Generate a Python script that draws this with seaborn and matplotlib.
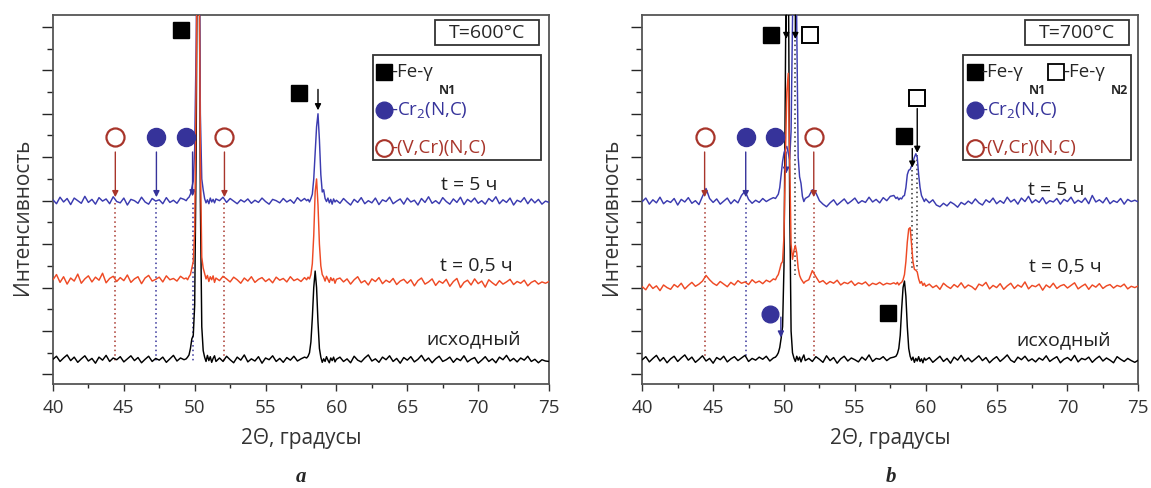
import numpy as np
import pandas as pd
import matplotlib
matplotlib.use('Agg')
import matplotlib.pyplot as plt
import seaborn as sns
from matplotlib.patches import Rectangle

# 2-theta sampling grid (coarse on the background, fine around the peaks)
tt = np.concatenate([
    np.linspace(40.0, 49.25, 38),
    np.linspace(49.4, 51.5, 22),
    np.linspace(51.75, 57.75, 25),
    np.linspace(57.9, 60.0, 22),
    np.linspace(60.25, 75.0, 60),
])

# ---- panel a : T = 600 C ----
a_blue = ([4.02, 3.93, 4.08, 3.97, 4.05, 3.91, 4.06, 4.0, 3.94, 4.1,
           3.96, 4.03, 3.92, 4.07, 3.99, 4.04, 3.93, 4.09, 3.98, 3.95,
           4.06, 3.9, 4.03, 4.0, 3.94, 4.08, 3.97, 3.92, 4.05, 3.99,
           4.02, 3.93, 4.07, 3.96, 4.01, 3.94, 4.06, 4.03]
          + [4.0, 4.05, 4.08, 4.15, 4.3, 4.45, 5.2, 7.5, 11.0, 11.5, 6.0,
             4.5, 4.25, 4.05, 3.95, 4.02, 3.93, 4.06, 3.97, 4.03, 3.95, 4.04]
          + [4.0, 4.08, 3.96, 4.05, 3.99, 3.93, 4.02, 3.97, 4.04, 3.94,
             4.01, 3.96, 4.06, 3.98, 3.92, 4.03, 4.0, 3.95, 4.05, 3.97,
             4.02, 3.94, 4.07, 3.99, 4.05]
          + [4.0, 4.03, 3.97, 4.05, 4.15, 4.5, 5.1, 5.7, 6.0, 5.4, 4.6,
             4.2, 4.25, 4.05, 3.98, 4.06, 3.95, 4.03, 3.92, 4.04, 3.97, 4.01]
          + [3.94, 4.05, 3.97, 3.9, 4.03, 3.96, 4.07, 3.93, 4.0, 3.95,
             4.06, 3.91, 4.02, 3.98, 4.08, 3.93, 3.99, 4.04, 3.92, 4.06,
             3.97, 4.01, 3.9, 4.05, 3.96, 4.09, 3.94, 4.0, 3.93, 4.07,
             3.98, 3.92, 4.04, 3.96, 4.08, 3.91, 4.03, 3.97, 4.06, 3.94,
             4.0, 3.92, 4.05, 3.98, 4.09, 3.93, 4.02, 3.96, 4.06, 3.9,
             4.01, 3.97, 4.07, 3.93, 4.04, 3.95, 4.03, 3.92, 3.99, 3.96])

a_red = ([2.18, 2.3, 2.12, 2.25, 2.08, 2.22, 2.15, 2.31, 2.1, 2.2,
          2.27, 2.13, 2.24, 2.17, 2.33, 2.11, 2.21, 2.26, 2.14, 2.23,
          2.16, 2.29, 2.12, 2.2, 2.25, 2.09, 2.22, 2.28, 2.15, 2.19,
          2.24, 2.13, 2.27, 2.18, 2.21, 2.15, 2.26, 2.2]
         + [2.22, 2.18, 2.25, 2.3, 2.45, 2.6, 3.3, 6.5, 11.0, 10.5, 5.0,
            2.7, 2.45, 2.32, 2.2, 2.28, 2.14, 2.25, 2.18, 2.27, 2.12, 2.22]
         + [2.16, 2.26, 2.2, 2.13, 2.24, 2.18, 2.1, 2.22, 2.15, 2.25,
            2.12, 2.19, 2.23, 2.14, 2.2, 2.11, 2.24, 2.17, 2.21, 2.13,
            2.25, 2.16, 2.2, 2.14, 2.23]
         + [2.18, 2.24, 2.2, 2.3, 2.55, 3.2, 4.2, 4.5, 3.9, 3.0, 2.5,
            2.3, 2.24, 2.15, 2.26, 2.19, 2.12, 2.23, 2.16, 2.21, 2.1, 2.19]
         + [2.22, 2.13, 2.2, 2.08, 2.18, 2.25, 2.11, 2.16, 2.06, 2.2,
            2.14, 2.23, 2.09, 2.17, 2.12, 2.21, 2.07, 2.15, 2.19, 2.1,
            2.18, 2.04, 2.16, 2.22, 2.08, 2.13, 2.2, 2.05, 2.15, 2.1,
            2.19, 2.03, 2.14, 2.21, 2.0, 2.12, 2.17, 2.06, 2.2, 2.09,
            2.15, 2.01, 2.18, 2.11, 2.05, 2.16, 2.08, 2.13, 2.19, 2.07,
            2.14, 2.1, 2.17, 2.04, 2.12, 2.16, 2.08, 2.13, 2.1, 2.14])

a_black = ([0.35, 0.42, 0.3, 0.38, 0.45, 0.32, 0.4, 0.28, 0.36, 0.43,
            0.31, 0.37, 0.26, 0.4, 0.33, 0.44, 0.3, 0.38, 0.34, 0.41,
            0.29, 0.36, 0.43, 0.32, 0.39, 0.27, 0.35, 0.42, 0.3, 0.37,
            0.33, 0.4, 0.28, 0.36, 0.44, 0.31, 0.38, 0.34]
           + [0.36, 0.4, 0.45, 0.6, 0.82, 0.9, 1.6, 5.0, 11.0, 11.5, 4.0,
              1.1, 0.55, 0.4, 0.3, 0.44, 0.32, 0.41, 0.28, 0.37, 0.43, 0.3]
           + [0.38, 0.3, 0.42, 0.34, 0.27, 0.4, 0.33, 0.45, 0.29, 0.36,
              0.31, 0.41, 0.26, 0.38, 0.34, 0.43, 0.3, 0.37, 0.28, 0.39,
              0.33, 0.42, 0.31, 0.36, 0.4]
           + [0.38, 0.42, 0.5, 0.75, 1.3, 2.0, 2.38, 2.0, 1.2, 0.6, 0.4,
              0.28, 0.36, 0.3, 0.41, 0.33, 0.27, 0.38, 0.32, 0.4, 0.29, 0.35]
           + [0.4, 0.3, 0.36, 0.27, 0.42, 0.33, 0.29, 0.38, 0.45, 0.31,
              0.36, 0.28, 0.4, 0.34, 0.43, 0.3, 0.37, 0.26, 0.39, 0.33,
              0.41, 0.29, 0.35, 0.44, 0.31, 0.38, 0.27, 0.36, 0.42, 0.3,
              0.34, 0.4, 0.28, 0.37, 0.32, 0.43, 0.29, 0.35, 0.39, 0.26,
              0.33, 0.41, 0.3, 0.36, 0.27, 0.4, 0.34, 0.44, 0.31, 0.37,
              0.29, 0.38, 0.33, 0.42, 0.3, 0.35, 0.27, 0.34, 0.31, 0.3])

# ---- panel b : T = 700 C ----
b_blue = ([3.98, 4.06, 3.92, 4.02, 3.95, 4.08, 3.93, 4.0, 3.96, 4.05,
           3.9, 4.03, 3.97, 4.07, 3.94, 4.0, 3.91, 4.1, 4.28, 4.05,
           3.96, 4.04, 3.92, 3.99, 4.06, 3.93, 4.02, 3.95, 4.12, 4.22,
           4.03, 3.94, 4.01, 3.96, 4.05, 3.98, 4.03, 4.07]
          + [4.05, 4.1, 4.15, 4.3, 4.6, 4.9, 5.1, 5.2, 5.25, 5.1, 4.95,
             5.6, 8.0, 11.0, 11.5, 8.0, 5.0, 4.55, 4.4, 4.1, 3.98, 4.05]
          + [4.1, 4.25, 4.18, 4.0, 3.92, 3.86, 3.95, 4.02, 3.9, 3.97,
             4.04, 3.93, 3.99, 4.06, 3.94, 4.0, 3.96, 4.08, 3.97, 4.03,
             3.95, 4.07, 4.0, 4.1, 4.12]
          + [4.05, 4.08, 4.02, 4.06, 4.04, 4.1, 4.12, 4.3, 4.6, 4.7, 4.72,
             4.8, 4.9, 5.0, 5.08, 5.0, 4.6, 4.3, 4.12, 4.05, 3.98, 4.04]
          + [3.95, 4.02, 3.9, 3.86, 3.94, 3.88, 3.97, 3.92, 3.85, 3.96,
             3.91, 3.99, 3.93, 4.04, 3.95, 3.9, 4.02, 3.96, 4.06, 3.93,
             4.0, 3.94, 4.08, 3.97, 4.03, 3.92, 4.06, 3.98, 4.1, 3.95,
             4.02, 3.96, 4.07, 3.93, 4.0, 3.97, 4.05, 3.92, 4.03, 3.98,
             4.08, 3.94, 4.01, 3.96, 4.06, 3.93, 4.12, 3.97, 4.02, 3.95,
             4.07, 3.93, 4.0, 3.96, 4.05, 3.92, 4.03, 3.98, 4.01, 3.97])

b_red = ([2.02, 1.95, 2.08, 1.98, 2.04, 1.93, 2.06, 2.0, 1.96, 2.07,
          2.01, 2.1, 1.97, 2.05, 2.12, 2.03, 2.08, 2.15, 2.28, 2.18,
          2.1, 2.05, 2.14, 2.08, 2.02, 2.12, 2.06, 2.16, 2.1, 2.13,
          2.07, 2.18, 2.11, 2.15, 2.09, 2.17, 2.13, 2.2]
         + [2.18, 2.25, 2.3, 2.42, 2.55, 2.6, 3.2, 5.0, 6.5, 6.93, 5.0,
            3.0, 2.65, 2.85, 2.97, 2.8, 2.45, 2.28, 2.2, 2.15, 2.1, 2.14]
         + [2.18, 2.39, 2.25, 2.12, 2.16, 2.08, 2.14, 2.1, 2.17, 2.06,
            2.12, 2.09, 2.15, 2.05, 2.11, 2.08, 2.13, 2.04, 2.1, 2.07,
            2.12, 2.06, 2.1, 2.08, 2.11]
         + [2.08, 2.12, 2.06, 2.1, 2.12, 2.18, 2.3, 2.6, 3.05, 3.35, 3.38,
            3.0, 2.6, 2.42, 2.4, 2.36, 2.2, 2.1, 2.14, 2.05, 2.1, 2.03]
         + [2.08, 2.0, 2.05, 1.96, 2.1, 2.03, 1.98, 2.07, 2.01, 2.11,
            1.99, 2.06, 2.02, 1.95, 2.08, 2.04, 2.12, 1.97, 2.05, 2.0,
            2.09, 1.96, 2.04, 2.1, 1.98, 2.06, 2.01, 2.13, 1.97, 2.05,
            2.02, 2.08, 1.94, 2.06, 2.0, 2.1, 1.98, 2.04, 2.07, 1.99,
            2.05, 2.11, 1.97, 2.03, 2.08, 1.96, 2.06, 2.01, 2.09, 1.98,
            2.04, 2.07, 1.99, 2.05, 2.02, 2.08, 1.97, 2.03, 2.0, 2.04])

b_black = ([0.34, 0.41, 0.29, 0.37, 0.44, 0.31, 0.39, 0.27, 0.36, 0.42,
            0.3, 0.38, 0.45, 0.33, 0.4, 0.28, 0.35, 0.43, 0.31, 0.37,
            0.26, 0.39, 0.34, 0.42, 0.29, 0.36, 0.41, 0.32, 0.38, 0.44,
            0.3, 0.37, 0.33, 0.4, 0.35, 0.42, 0.31, 0.38]
           + [0.4, 0.44, 0.5, 0.62, 0.84, 1.1, 2.5, 7.0, 11.5, 10.0, 4.0,
              1.0, 0.5, 0.38, 0.3, 0.42, 0.33, 0.4, 0.29, 0.38, 0.45, 0.32]
           + [0.37, 0.3, 0.41, 0.35, 0.28, 0.43, 0.32, 0.39, 0.26, 0.36,
              0.42, 0.31, 0.38, 0.34, 0.29, 0.4, 0.33, 0.45, 0.3, 0.37,
              0.35, 0.41, 0.32, 0.38, 0.4]
           + [0.42, 0.48, 0.6, 0.9, 1.5, 2.0, 2.15, 1.8, 1.1, 0.6, 0.42,
              0.33, 0.4, 0.28, 0.37, 0.31, 0.41, 0.3, 0.36, 0.27, 0.38, 0.33]
           + [0.39, 0.28, 0.35, 0.42, 0.3, 0.37, 0.26, 0.4, 0.33, 0.44,
              0.31, 0.38, 0.29, 0.36, 0.43, 0.32, 0.39, 0.27, 0.35, 0.41,
              0.3, 0.37, 0.45, 0.33, 0.28, 0.4, 0.34, 0.42, 0.31, 0.36,
              0.29, 0.38, 0.33, 0.43, 0.3, 0.36, 0.41, 0.27, 0.35, 0.39,
              0.32, 0.44, 0.29, 0.37, 0.34, 0.4, 0.28, 0.36, 0.42, 0.31,
              0.38, 0.33, 0.27, 0.41, 0.35, 0.3, 0.37, 0.32, 0.28, 0.33])

# phase positions (2-theta)
vcr_pos = [44.4, 52.1]          # (V,Cr)(N,C), open circles
cr2_pos = [47.3, 49.4]          # Cr2(N,C), filled circles
cr2_arrow = [47.3, 49.85]
curve_labels = ['t = 5 ч', 't = 0,5 ч', 'исходный']

C_BLUE = '#3b3bb0'
C_RED = '#ee4a25'
C_DRED = '#a8352b'
C_MARK = '#36339a'

sns.set_style('ticks')
plt.rcParams['font.family'] = ['Open Sans', 'DejaVu Sans']
plt.rcParams['mathtext.fontset'] = 'custom'
plt.rcParams['mathtext.rm'] = 'Open Sans'
plt.rcParams['mathtext.it'] = 'Open Sans:italic'


def arrow(ax, x, y0, y1, color):
    ax.annotate('', xy=(x, y1), xytext=(x, y0), annotation_clip=False,
                arrowprops=dict(arrowstyle='-|>', color=color, lw=1.0,
                                mutation_scale=9, shrinkA=0, shrinkB=0))


def vdot(ax, x, y0, y1, color):
    ax.plot([x, x], [y0, y1], ls=(0, (1, 2)), color=color, lw=1.1, zorder=1)


def setup_axes(ax):
    ax.set_xlim(40, 75)
    ax.set_ylim(-0.22, 8.27)
    ax.set_xticks(np.arange(40, 76, 5))
    ax.set_xticks(np.arange(42.5, 75, 5), minor=True)
    ax.set_yticks(np.arange(0, 9, 1))
    ax.set_yticks(np.arange(0.5, 8, 1), minor=True)
    ax.set_yticklabels([])
    ax.tick_params(axis='x', which='major', length=5, width=1, labelsize=13.5,
                   pad=6, colors='#333333')
    ax.tick_params(axis='x', which='minor', length=3, width=1)
    ax.tick_params(axis='y', which='major', length=8, width=1)
    ax.tick_params(axis='y', which='minor', length=4, width=1)
    for sp in ax.spines.values():
        sp.set_visible(True)
        sp.set_color('#555555')
        sp.set_linewidth(1.3)
    ax.set_xlabel('2Θ, градусы', fontsize=15, color='#333333', labelpad=8)
    ax.set_ylabel('Интенсивность', fontsize=15, color='#333333')
    ax.yaxis.set_label_coords(-0.04, 0.453)


def draw_curves(ax, black, blue, red):
    df = pd.DataFrame({'tt': tt, 'black': black, 'blue': blue, 'red': red})
    sns.lineplot(data=df, x='tt', y='black', ax=ax, color='black', lw=1.05,
                 estimator=None, sort=False, zorder=3)
    sns.lineplot(data=df, x='tt', y='blue', ax=ax, color=C_BLUE, lw=1.05,
                 estimator=None, sort=False, zorder=3)
    sns.lineplot(data=df, x='tt', y='red', ax=ax, color=C_RED, lw=1.05,
                 estimator=None, sort=False, zorder=4)
    ax.set_xlabel('2Θ, градусы')
    ax.set_ylabel('Интенсивность')


def phase_marks(ax):
    ax.plot(vcr_pos, [5.46] * len(vcr_pos), 'o', ms=13, mfc='white',
            mec=C_DRED, mew=1.6, ls='none', zorder=6)
    ax.plot(cr2_pos, [5.46] * len(cr2_pos), 'o', ms=13, mfc=C_MARK,
            mec=C_MARK, ls='none', zorder=6)
    for x in vcr_pos:
        arrow(ax, x, 5.12, 4.08, C_DRED)
    arrow(ax, cr2_arrow[0], 5.12, 4.08, C_MARK)


def legend_box(ax, x0, x1, second=False):
    ax.add_patch(Rectangle((x0, 0.607), x1 - x0, 0.285, transform=ax.transAxes,
                           fc='white', ec='#333333', lw=1.3, zorder=7))
    mx = x0 + 0.023
    tx = x0 + 0.036
    kw = dict(transform=ax.transAxes, clip_on=False, zorder=8)
    ax.plot([mx], [0.846], 's', ms=12, color='black', **kw)
    ax.text(tx, 0.846, '-Fe-γ', fontsize=13.5, va='center', ha='left', **kw)
    ax.text(tx + 0.097, 0.795, 'N1', fontsize=9, va='center', ha='left',
            fontweight='bold', **kw)
    if second:
        ax.plot([x0 + 0.188], [0.846], 's', ms=12, mfc='white', mec='black',
                mew=1.3, **kw)
        ax.text(x0 + 0.201, 0.846, '-Fe-γ', fontsize=13.5, va='center',
                ha='left', **kw)
        ax.text(x0 + 0.298, 0.795, 'N2', fontsize=9, va='center', ha='left',
                fontweight='bold', **kw)
    ax.plot([mx], [0.743], 'o', ms=12, color=C_MARK, **kw)
    ax.text(tx, 0.743, r'-Cr$_\mathregular{2}$(N,C)', fontsize=13.5,
            va='center', ha='left', color=C_MARK, **kw)
    ax.plot([mx], [0.640], 'o', ms=12, mfc='white', mec=C_DRED, mew=1.5, **kw)
    ax.text(tx, 0.640, '-(V,Cr)(N,C)', fontsize=13.5, va='center', ha='left',
            color=C_DRED, **kw)


def temp_box(ax, x0, x1, label):
    ax.add_patch(Rectangle((x0, 0.919), x1 - x0, 0.067, transform=ax.transAxes,
                           fc='white', ec='#333333', lw=1.3, zorder=7))
    ax.text((x0 + x1) / 2, 0.952, label, transform=ax.transAxes, fontsize=14,
            ha='center', va='center', zorder=8)


def curve_text(ax, xs, ys):
    for lab, x, y in zip(curve_labels, xs, ys):
        ax.text(x, y, lab, fontsize=14, ha='center', va='center',
                color='#222222', zorder=5)


fig = plt.figure(figsize=(11.51, 4.88), dpi=100)
ax_a = fig.add_axes([0.046, 0.213, 0.431, 0.756])
ax_b = fig.add_axes([0.558, 0.213, 0.431, 0.756])

# panel a
for x, c in [(44.4, C_DRED), (47.3, C_MARK), (49.85, C_MARK), (52.1, C_DRED)]:
    vdot(ax_a, x, 3.95, 0.3, c)
draw_curves(ax_a, a_black, a_blue, a_red)
setup_axes(ax_a)
phase_marks(ax_a)
arrow(ax_a, 49.85, 5.12, 4.1, C_MARK)
ax_a.plot([49.0], [7.93], 's', ms=12, color='black', zorder=6)
ax_a.plot([57.35], [6.47], 's', ms=12, color='black', zorder=6)
arrow(ax_a, 58.7, 6.56, 6.08, 'black')
legend_box(ax_a, 0.645, 0.984)
temp_box(ax_a, 0.770, 0.980, 'T=600°C')
curve_text(ax_a, [69.4, 69.9, 69.65], [4.37, 2.5, 0.8])

# panel b
for x, c in [(44.4, C_DRED), (47.3, C_MARK), (52.1, C_DRED)]:
    vdot(ax_b, x, 3.95, 0.4, c)
vdot(ax_b, 50.8, 7.7, 2.3, '#333333')
vdot(ax_b, 59.05, 4.7, 2.4, '#333333')
vdot(ax_b, 59.4, 5.05, 2.4, '#333333')
draw_curves(ax_b, b_black, b_blue, b_red)
setup_axes(ax_b)
phase_marks(ax_b)
arrow(ax_b, 50.15, 5.12, 4.62, C_MARK)
ax_b.plot([49.1], [7.81], 's', ms=12, color='black', zorder=6)
ax_b.plot([51.85], [7.81], 's', ms=12, mfc='white', mec='black', mew=1.4,
          zorder=6)
arrow(ax_b, 50.16, 8.27, 7.72, 'black')
arrow(ax_b, 50.8, 8.27, 7.72, 'black')
ax_b.plot([58.5], [5.48], 's', ms=12, color='black', zorder=6)
ax_b.plot([59.4], [6.37], 's', ms=12, mfc='white', mec='black', mew=1.4,
          zorder=6)
arrow(ax_b, 59.05, 5.2, 4.76, 'black')
arrow(ax_b, 59.4, 6.12, 5.1, 'black')
ax_b.plot([49.0], [1.4], 'o', ms=12, color=C_MARK, zorder=6)
arrow(ax_b, 49.78, 1.32, 0.85, C_MARK)
ax_b.plot([57.35], [1.42], 's', ms=12, color='black', zorder=6)
legend_box(ax_b, 0.647, 0.986, second=True)
temp_box(ax_b, 0.772, 0.982, 'T=700°C')
curve_text(ax_b, [69.2, 69.85, 69.7], [4.25, 2.48, 0.78])

for lab, xf in [('a', 0.2615), ('b', 0.774)]:
    fig.text(xf, 0.022, lab, fontsize=15, fontweight='bold', fontstyle='italic',
             family='Liberation Serif', ha='center', va='center')

fig.savefig('out.png', dpi=100)
